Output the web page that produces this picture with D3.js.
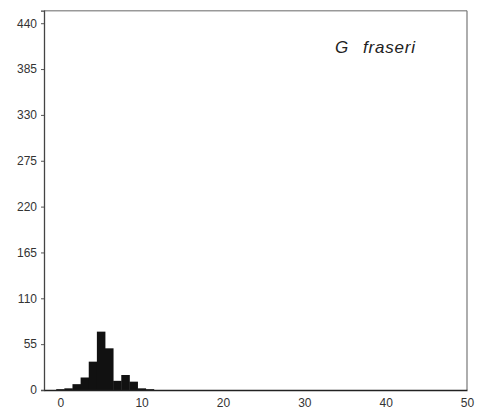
<!DOCTYPE html>
<html>
<head>
<meta charset="utf-8">
<script src="https://cdn.jsdelivr.net/npm/d3@7"></script>
<style>
  body { margin: 0; background: #fff; }
  svg { display: block; font-family: "Liberation Sans", Arial, sans-serif; }
</style>
</head>
<body>
<svg id="chart"></svg>
<script>
// histogram data (bin centres, counts)
const binCentres = [0, 1, 2, 3, 4, 5, 6, 7, 8, 9, 10, 11];
const counts     = [1, 2, 7, 15, 34, 70, 50, 11, 18, 10, 2, 1];
const yTicks = [0, 55, 110, 165, 220, 275, 330, 385, 440];
const xTicks = [0, 10, 20, 30, 40, 50];
const genus = "G", species = "fraseri";

const width = 486, height = 416;
const plotLeft = 44, plotRight = 467, plotTop = 10.7, plotBottom = 390;

const svg = d3.select("#chart")
  .attr("width", width)
  .attr("height", height);

const x = d3.scaleLinear().domain([-2, 50]).range([plotLeft, plotRight]);
const y = d3.scaleLinear().domain([0, 455]).range([plotBottom, plotTop]);

// bars
svg.append("g")
  .selectAll("rect")
  .data(binCentres)
  .enter()
  .append("rect")
  .attr("x", d => x(d - 0.5))
  .attr("width", d => x(d + 0.5) - x(d - 0.5) + 0.4)
  .attr("y", (d, i) => y(counts[i]))
  .attr("height", (d, i) => y(0) - y(counts[i]))
  .attr("fill", "#111");

// frame
svg.append("line").attr("x1", plotLeft).attr("x2", plotRight).attr("y1", plotTop).attr("y2", plotTop)
  .attr("stroke", "#999").attr("stroke-width", 1.5);
svg.append("line").attr("x1", plotRight).attr("x2", plotRight).attr("y1", plotTop).attr("y2", plotBottom)
  .attr("stroke", "#777").attr("stroke-width", 1.2);

// axes
const yAxis = svg.append("g")
  .attr("transform", `translate(${plotLeft},0)`)
  .call(d3.axisLeft(y).tickValues(yTicks).tickSize(3).tickPadding(4));
const xAxis = svg.append("g")
  .attr("transform", `translate(0,${plotBottom})`)
  .call(d3.axisBottom(x).tickValues(xTicks).tickSize(0).tickPadding(8));

[yAxis, xAxis].forEach(g => {
  g.select(".domain").attr("stroke", "#444").attr("stroke-width", 1.3);
  g.selectAll(".tick line").attr("stroke", "#555");
  g.selectAll("text").attr("fill", "#333").style("font-size", "12px")
    .style("font-family", "'Liberation Sans', Arial, sans-serif");
});
xAxis.select(".domain").attr("stroke", "#222").attr("stroke-width", 1.6);

// species label
const lbl = svg.append("text")
  .attr("x", 335)
  .attr("y", 53)
  .attr("fill", "#222")
  .style("font-size", "17px")
  .style("font-style", "italic")
  .style("letter-spacing", "0.8px");
lbl.append("tspan").text(genus);
lbl.append("tspan").attr("dx", 14).text(species);
</script>
</body>
</html>
